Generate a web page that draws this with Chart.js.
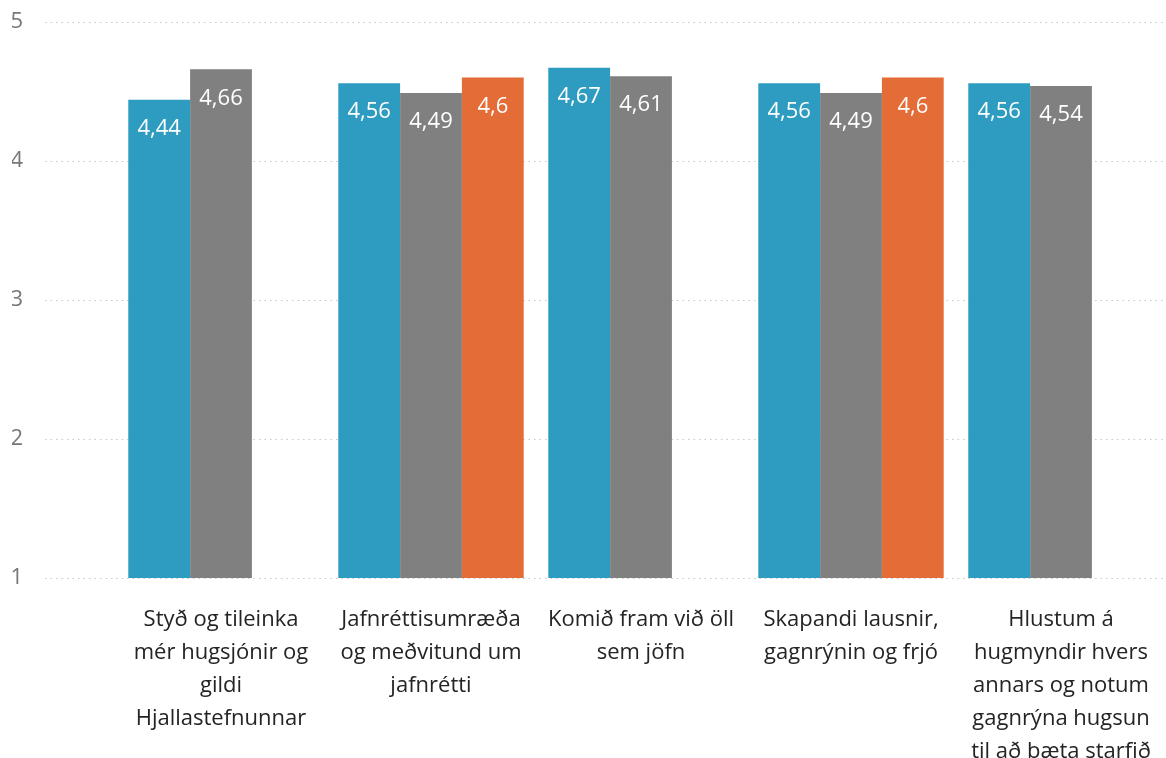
<!DOCTYPE html>
<html>
<head>
<meta charset="utf-8">
<script src="https://cdn.jsdelivr.net/npm/chart.js@4.4.1/dist/chart.umd.min.js"></script>
<style>
  html, body { margin: 0; padding: 0; background: #fff; }
  canvas { display: block; }
</style>
</head>
<body>
<canvas id="chart" width="1166" height="758"></canvas>
<script>
const categories = [
  ['Styð og tileinka', 'mér hugsjónir og', 'gildi', 'Hjallastefnunnar'],
  ['Jafnréttisumræða', 'og meðvitund um', 'jafnrétti'],
  ['Komið fram við öll', 'sem jöfn'],
  ['Skapandi lausnir,', 'gagnrýnin og frjó'],
  ['Hlustum á', 'hugmyndir hvers', 'annars og notum', 'gagnrýna hugsun', 'til að bæta starfið']
];
const blueValues = [4.44, 4.56, 4.67, 4.56, 4.56];
const grayValues = [4.66, 4.49, 4.61, 4.49, 4.54];
const orangeValues = [null, 4.6, null, 4.6, null];
const yTicks = [1, 2, 3, 4, 5];

const font = "'Open Sans', 'Noto Sans', sans-serif";

// value labels inside the top of each bar
const barLabels = {
  id: 'barLabels',
  afterDatasetsDraw(chart) {
    const ctx = chart.ctx;
    ctx.save();
    ctx.fillStyle = '#ffffff';
    ctx.font = '22px ' + font;
    ctx.textAlign = 'center';
    ctx.textBaseline = 'middle';
    chart.data.datasets.forEach((ds, i) => {
      chart.getDatasetMeta(i).data.forEach((bar, j) => {
        const v = ds.data[j];
        if (v == null) return;
        ctx.fillText(String(v).replace('.', ','), bar.x, bar.y + 29);
      });
    });
    ctx.restore();
  }
};

new Chart(document.getElementById('chart'), {
  type: 'bar',
  data: {
    labels: categories,
    datasets: [
      { data: blueValues, backgroundColor: '#2e9cc0' },
      { data: grayValues, backgroundColor: '#808080' },
      { data: orangeValues, backgroundColor: '#e46c37' }
    ]
  },
  options: {
    responsive: false,
    devicePixelRatio: 1,
    animation: false,
    layout: { padding: { left: 12, top: 22, right: -4, bottom: 0 } },
    plugins: { legend: { display: false }, tooltip: { enabled: false } },
    datasets: { bar: { categoryPercentage: 0.883, barPercentage: 1 } },
    scales: {
      x: {
        grid: { display: false, drawTicks: false },
        border: { display: false },
        ticks: {
          color: '#252423',
          font: { family: font, size: 22, lineHeight: 33 / 22 },
          padding: 25,
          maxRotation: 0,
          autoSkip: false
        },
        afterFit: (s) => { s.height = 180; s.paddingLeft = 0; s.paddingRight = 0; }
      },
      y: {
        min: yTicks[0],
        max: yTicks[yTicks.length - 1],
        afterBuildTicks: (s) => { s.ticks = yTicks.map(v => ({ value: v })); },
        grid: {
          color: '#c8c8c8',
          lineWidth: 1,
          tickLength: 71,
          tickColor: '#c8c8c8',
          tickBorderDash: [1.5, 4],
          drawTicks: true
        },
        border: { display: false, dash: [1.5, 4] },
        ticks: {
          color: '#777777',
          font: { family: font, size: 22 },
          padding: 22
        },
        afterFit: (s) => { s.width = 104; s.paddingTop = 0; s.paddingBottom = 0; }
      }
    }
  },
  plugins: [barLabels]
});
</script>
</body>
</html>
